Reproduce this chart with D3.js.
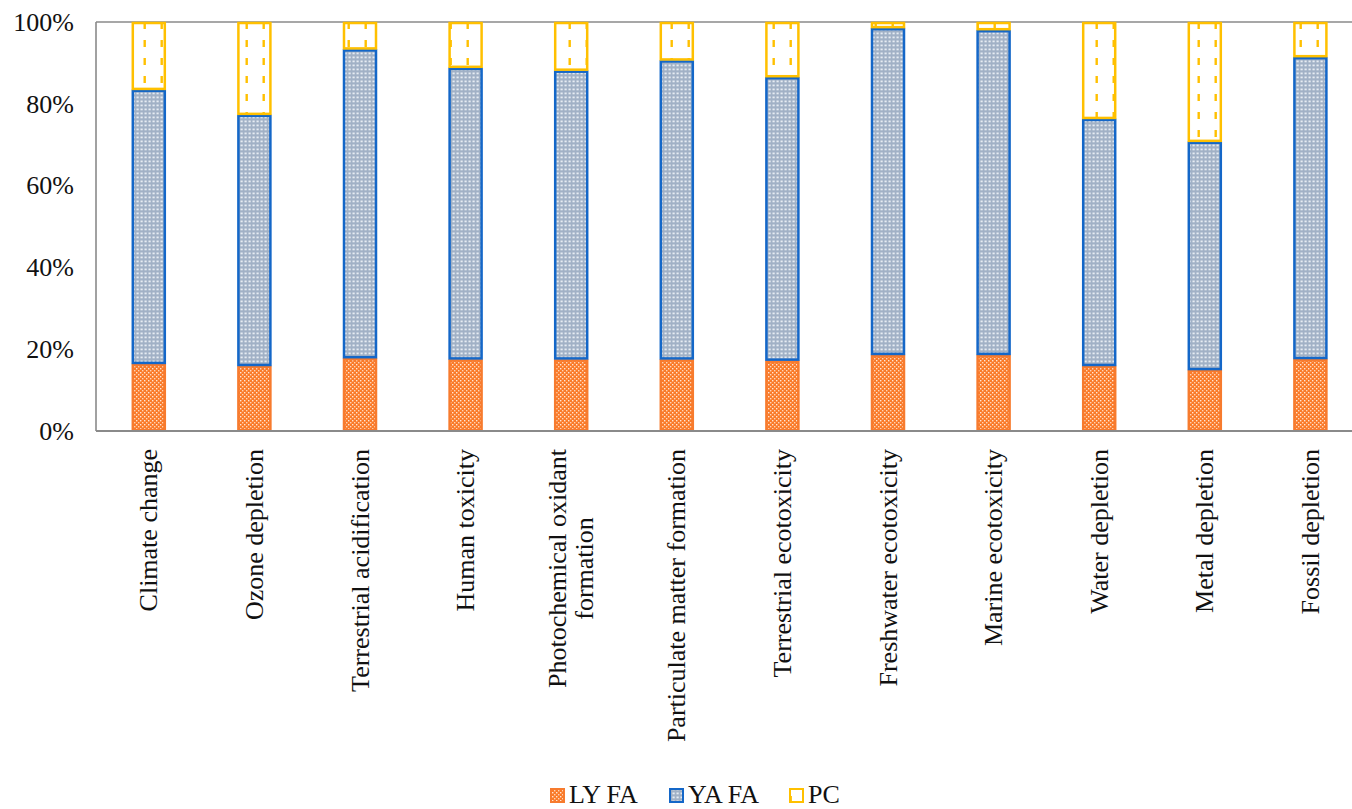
<!DOCTYPE html>
<html>
<head>
<meta charset="utf-8">
<script src="https://cdn.jsdelivr.net/npm/d3@7"></script>
<style>
  html, body { margin: 0; padding: 0; background: #fff; }
  svg { display: block; }
</style>
</head>
<body>
<svg id="chart" width="1352" height="809"></svg>
<script>
// Impact categories (a "\n" splits a label over two lines)
const categories = [
  "Climate change",
  "Ozone depletion",
  "Terrestrial acidification",
  "Human toxicity",
  "Photochemical oxidant\nformation",
  "Particulate matter formation",
  "Terrestrial ecotoxicity",
  "Freshwater ecotoxicity",
  "Marine ecotoxicity",
  "Water depletion",
  "Metal depletion",
  "Fossil depletion"
];

// Share of each impact (%)
const lyFA = [16.4, 15.9, 17.8, 17.5, 17.5, 17.5, 17.2, 18.6, 18.6, 15.9, 14.9, 17.6];
const yaFA = [67.0, 61.4, 75.5, 71.3, 70.6, 73.1, 69.3, 79.9, 79.4, 60.4, 55.8, 73.8];
const pc   = [16.6, 22.7,  6.7, 11.2, 11.9,  9.4, 13.5,  1.5,  2.0, 23.7, 29.3,  8.6];

const seriesNames = ["LY FA", "YA FA", "PC"];
const yTicks = [0, 20, 40, 60, 80, 100];

const FONT = '"Liberation Serif", "Times New Roman", serif';
const svg = d3.select("#chart");
const plot = { left: 96, top: 22, bottom: 431, step: 105.6 };
plot.right = plot.left + plot.step * categories.length;

// ---- fill patterns ----
const defs = svg.append("defs");

// LY FA: orange with fine white dot grid
const pLY = defs.append("pattern").attr("id", "pat-ly")
  .attr("patternUnits", "userSpaceOnUse").attr("width", 4).attr("height", 4);
pLY.append("rect").attr("width", 4).attr("height", 4).attr("fill", "#FA7A28");
pLY.append("rect").attr("x", 0).attr("y", 0).attr("width", 1.4).attr("height", 1.4).attr("fill", "#FFE6D4");
pLY.append("rect").attr("x", 2).attr("y", 2).attr("width", 1.4).attr("height", 1.4).attr("fill", "#FFD4B5");

// YA FA: grey-blue with small white blocks
const pYA = defs.append("pattern").attr("id", "pat-ya")
  .attr("patternUnits", "userSpaceOnUse").attr("width", 4).attr("height", 4);
pYA.append("rect").attr("width", 4).attr("height", 4).attr("fill", "#A1B1C6");
pYA.append("rect").attr("x", 0.5).attr("y", 0.5).attr("width", 2.2).attr("height", 1.8).attr("fill", "#E6ECF3");

// PC: white with short gold dashes
const pPC = defs.append("pattern").attr("id", "pat-pc")
  .attr("patternUnits", "userSpaceOnUse").attr("width", 17).attr("height", 18);
pPC.append("rect").attr("width", 17).attr("height", 18).attr("fill", "#fff");
pPC.append("rect").attr("x", 7.5).attr("y", 4).attr("width", 2.4).attr("height", 7).attr("fill", "#FFC000");

const fills = ["url(#pat-ly)", "url(#pat-ya)", "url(#pat-pc)"];
const strokes = ["#F77B2E", "#1467C8", "#FFC000"];

// ---- scales ----
const x = d3.scaleBand()
  .domain(categories)
  .range([plot.left, plot.right])
  .paddingInner(0.678)
  .paddingOuter(0.339);

const y = d3.scaleLinear().domain([0, 100]).range([plot.bottom, plot.top]);

// ---- stacked data ----
const rows = categories.map((c, i) => ({ cat: c, "LY FA": lyFA[i], "YA FA": yaFA[i], "PC": pc[i] }));
const stacked = d3.stack().keys(seriesNames)(rows);

// ---- frame ----
const frame = svg.append("g").attr("stroke", "#8A8A8A").attr("stroke-width", 1.6).attr("fill", "none");
frame.append("line").attr("x1", plot.left).attr("x2", plot.left).attr("y1", plot.top).attr("y2", plot.bottom);
frame.append("line").attr("x1", plot.left).attr("x2", plot.right).attr("y1", plot.top).attr("y2", plot.top);

// ---- bars ----
stacked.forEach((layer, si) => {
  svg.append("g")
    .selectAll("rect")
    .data(layer)
    .join("rect")
    .attr("x", d => x(d.data.cat) + 1)
    .attr("width", x.bandwidth() - 2)
    .attr("y", d => y(d[1]) + 1)
    .attr("height", d => Math.max(0, y(d[0]) - y(d[1]) - 2))
    .attr("fill", fills[si])
    .attr("stroke", strokes[si])
    .attr("stroke-width", 2.5);
});

// bottom axis line over the bars
svg.append("line")
  .attr("x1", plot.left).attr("x2", plot.right)
  .attr("y1", plot.bottom).attr("y2", plot.bottom)
  .attr("stroke", "#8A8A8A").attr("stroke-width", 1.8);

// ---- y axis labels ----
const yAxis = d3.axisLeft(y)
  .tickValues(yTicks)
  .tickFormat(d => d + "%")
  .tickSize(0)
  .tickPadding(22);
const yg = svg.append("g").attr("transform", `translate(${plot.left},0)`).call(yAxis);
yg.select(".domain").remove();
yg.attr("font-family", null).attr("font-size", null);
yg.selectAll("text")
  .style("font-family", FONT)
  .style("font-size", "26px")
  .attr("fill", "#111");

// ---- category labels (rotated) ----
const labelTop = 449;
const lineH = 27;
categories.forEach(c => {
  const lines = c.split("\n");
  const g = svg.append("g")
    .attr("transform", `translate(${x(c) + x.bandwidth() / 2},${labelTop}) rotate(-90)`);
  const t = g.append("text")
    .style("font-family", FONT).style("font-size", "26px")
    .attr("fill", "#111").attr("text-anchor", "middle");
  lines.forEach((ln, i) => {
    t.append("tspan")
      .attr("x", 0)
      .attr("y", (i - (lines.length - 1) / 2) * lineH)
      .attr("dy", "0.33em")
      .text(ln);
  });
  // shift so the longest line ends at the axis side
  const w = d3.max(t.selectAll("tspan").nodes(), n => n.getComputedTextLength());
  t.selectAll("tspan").attr("x", -w / 2);
});

// ---- legend ----
const legendItems = [
  { name: "LY FA", x: 550 },
  { name: "YA FA", x: 669 },
  { name: "PC", x: 789 }
];
const lg = svg.append("g");
legendItems.forEach((it, i) => {
  lg.append("rect")
    .attr("x", it.x + 1).attr("y", 789)
    .attr("width", 13).attr("height", 13)
    .attr("fill", fills[i]).attr("stroke", strokes[i]).attr("stroke-width", 2);
  lg.append("text")
    .attr("x", it.x + 19).attr("y", 803)
    .style("font-family", FONT).style("font-size", "26px")
    .attr("fill", "#111")
    .text(it.name);
});
</script>
</body>
</html>
